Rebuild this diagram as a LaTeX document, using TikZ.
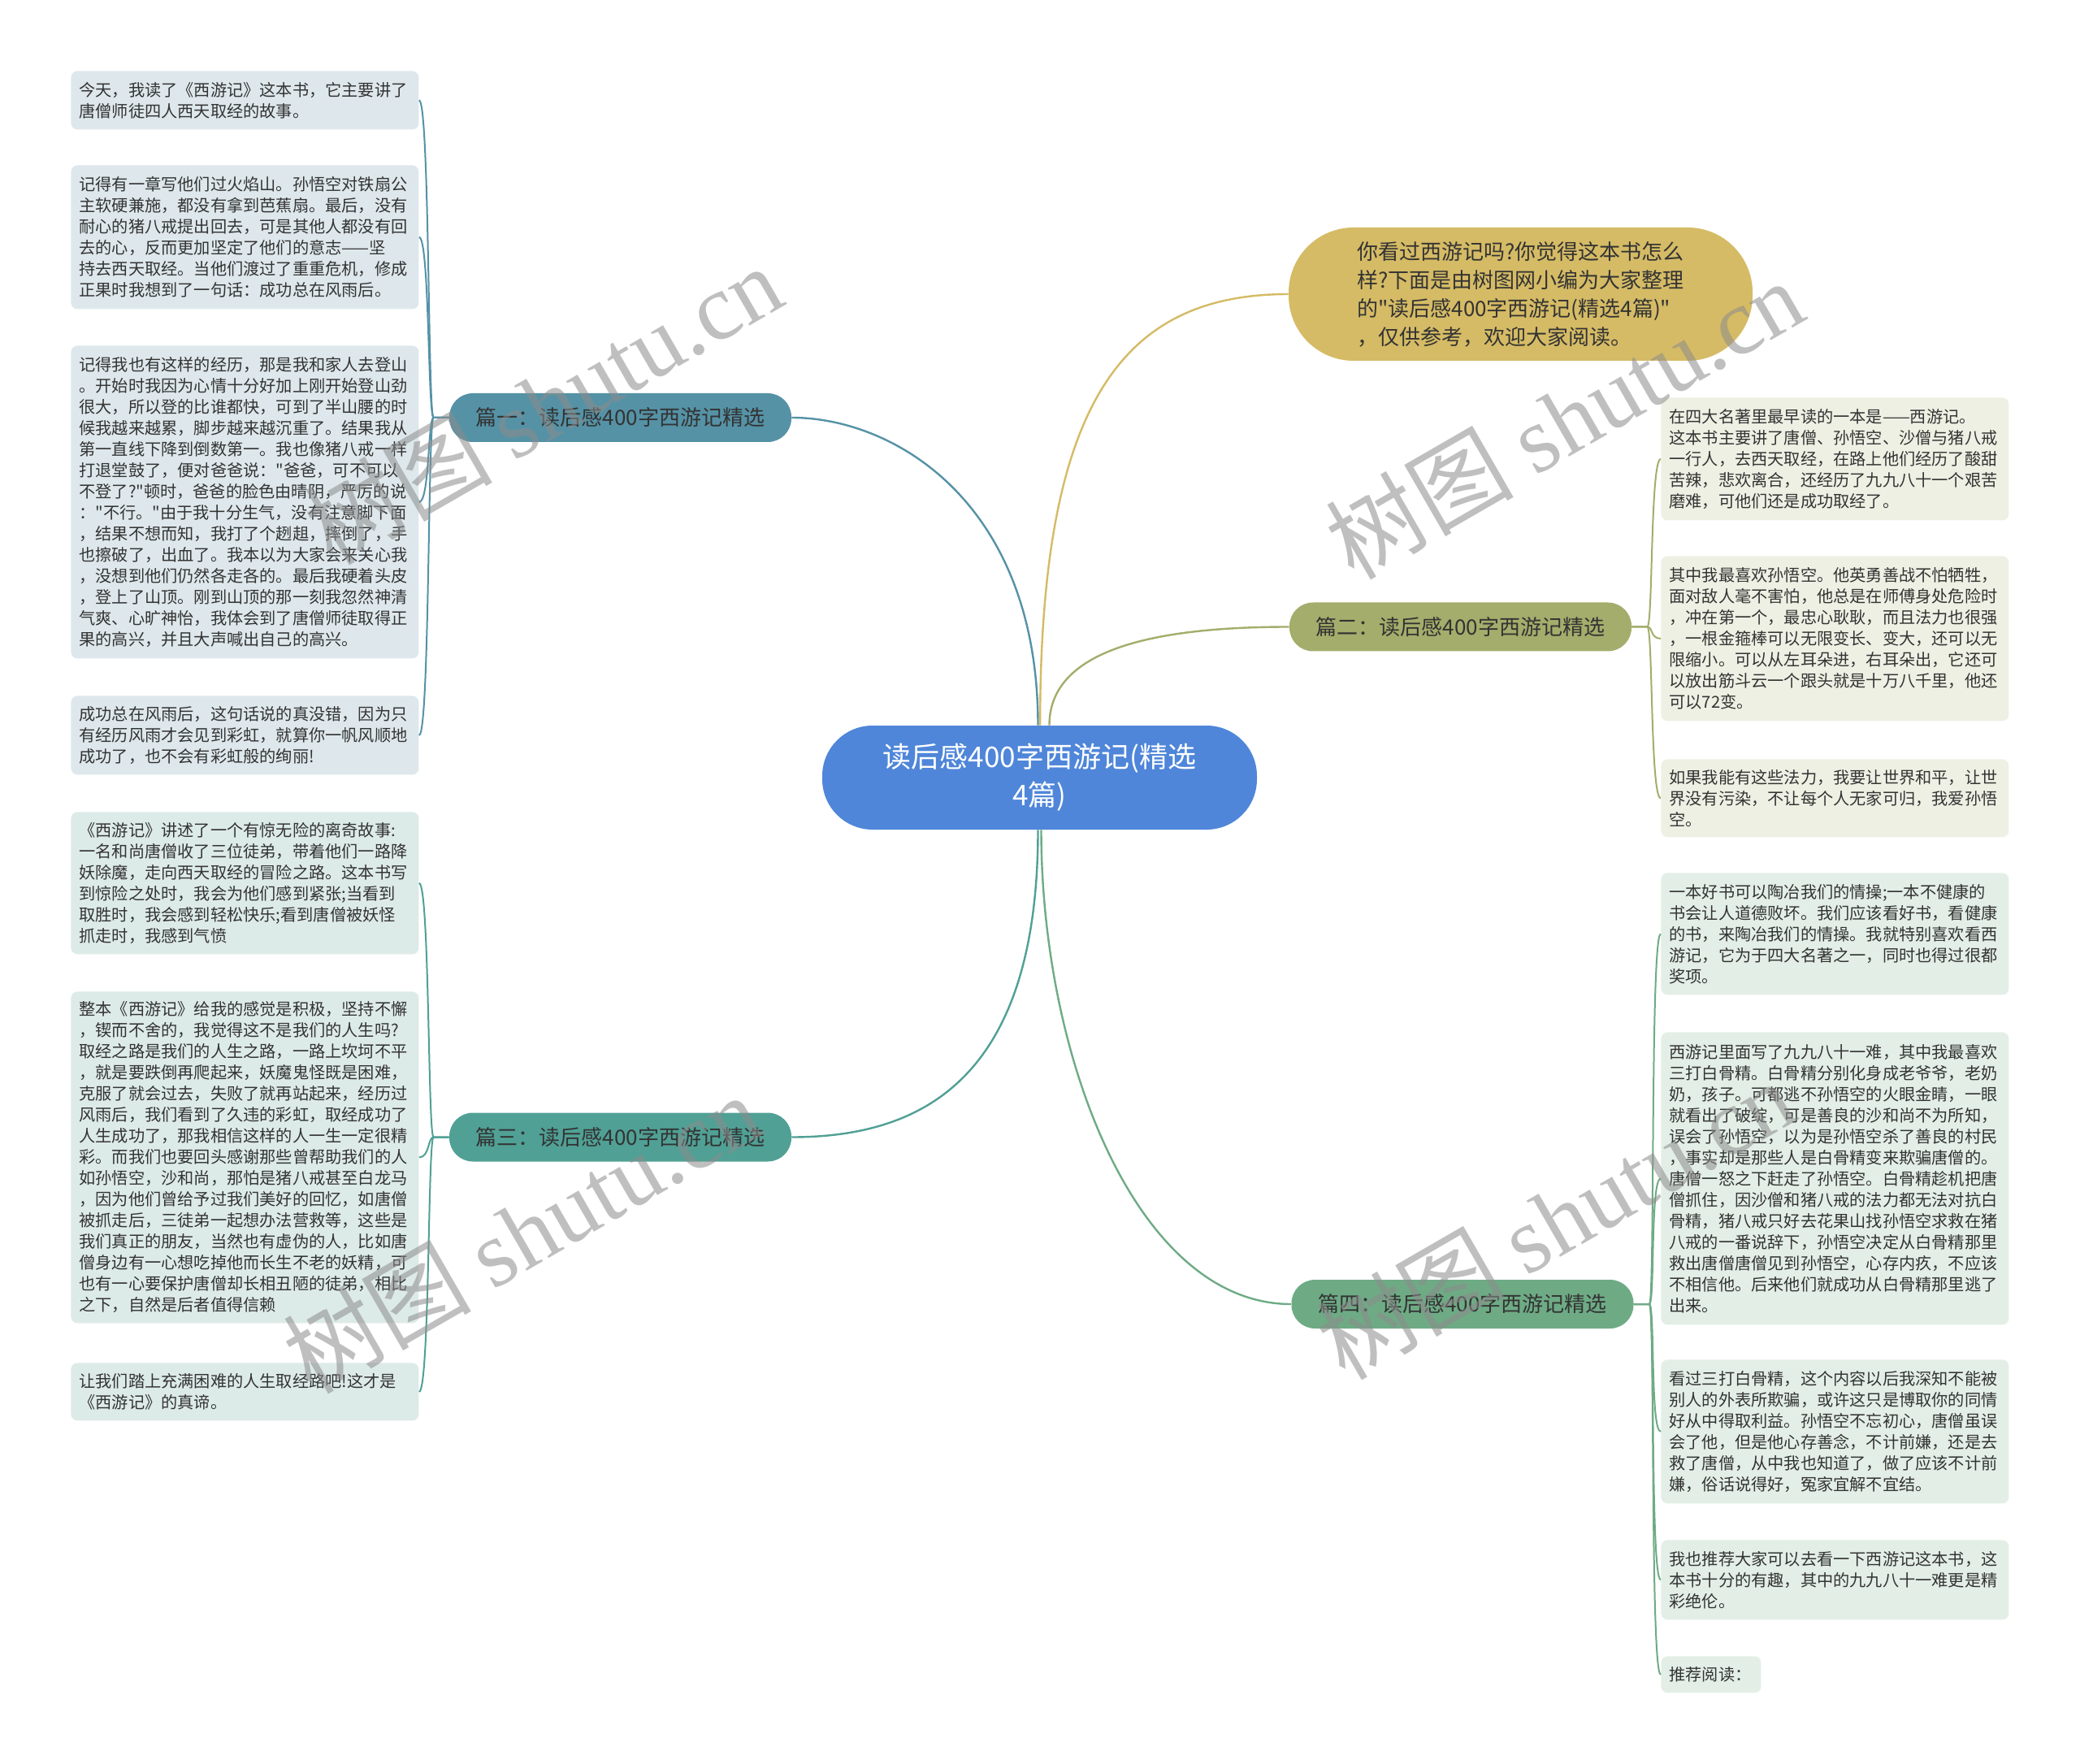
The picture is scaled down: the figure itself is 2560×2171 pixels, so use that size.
\documentclass[tikz,border=0pt]{standalone}
\usepackage{fontspec}
\newfontfamily\cjk{Noto Sans CJK SC}
\newfontfamily\wmlatin{Liberation Serif}
\usetikzlibrary{calc}
\definecolor{ctrblue}{HTML}{4F86D9}
\definecolor{introgold}{HTML}{D5BB65}
\definecolor{cA}{HTML}{5592A6}
\definecolor{cB}{HTML}{A4AD6B}
\definecolor{cC}{HTML}{50A095}
\definecolor{cD}{HTML}{6EAB85}
\definecolor{fA}{HTML}{DEE8EC}
\definecolor{fB}{HTML}{EFF0E4}
\definecolor{fC}{HTML}{DDEBE8}
\definecolor{fD}{HTML}{E3EFE6}
\definecolor{txt}{HTML}{333333}
\begin{document}
\begin{tikzpicture}[x=0.5pt,y=-0.5pt,
  leaf/.style={anchor=north west, rounded corners=4pt, inner xsep=5pt, inner ysep=0pt,
    text width=204pt, align=left, font=\cjk\fontsize{10.1pt}{13pt}\selectfont, text=txt},
  leafA/.style={leaf, fill=fA},
  leafB/.style={leaf, fill=fB},
  leafC/.style={leaf, fill=fC},
  leafD/.style={leaf, fill=fD},
  branch/.style={rounded corners=14.5pt, minimum width=210.5pt, minimum height=30pt,
    inner sep=0pt, font=\cjk\fontsize{13pt}{16pt}\selectfont, text=txt},
  mainline/.style={line width=1.2pt},
  leafline/.style={line width=1pt},
  wm/.style={rotate=30, text=black!45, text opacity=0.55, inner sep=0pt,
    font=\cjk\fontsize{58pt}{58pt}\selectfont}
]
\fill[white] (0,0) rectangle (2560,2171);
\useasboundingbox (0,0) rectangle (2560,2171);

% central and first-level nodes
\node[fill=ctrblue, rounded corners=31pt, minimum width=267.5pt, minimum height=64pt,
  inner sep=0pt, align=center, text=white, font=\cjk\fontsize{17.5pt}{23.5pt}\selectfont]
  (ctr) at (1279.5,957) {读后感400字西游记(精选\\4篇)};
\node[fill=introgold, rounded corners=40pt, minimum width=285.5pt, minimum height=82pt,
  inner sep=0pt, align=left, text=txt, font=\cjk\fontsize{13pt}{17.5pt}\selectfont]
  (intro) at (1871.5,362) {你看过西游记吗?你觉得这本书怎么\\样?下面是由树图网小编为大家整理\\的"读后感400字西游记(精选4篇)"\\，仅供参考，欢迎大家阅读。};
\node[branch, fill=cA] (b1) at (763.5,514) {篇一：读后感400字西游记精选};
\node[branch, fill=cC] (b3) at (763.5,1399.5) {篇三：读后感400字西游记精选};
\node[branch, fill=cB] (b2) at (1797.5,771.5) {篇二：读后感400字西游记精选};
\node[branch, fill=cD] (b4) at (1800,1605) {篇四：读后感400字西游记精选};

% left leaves
\node[leafA, minimum height=36pt] (l1) at (87,87) {今天，我读了《西游记》这本书，它主要讲了\\唐僧师徒四人西天取经的故事。};
\node[leafA, minimum height=88.5pt] (l2) at (87,203) {记得有一章写他们过火焰山。孙悟空对铁扇公\\主软硬兼施，都没有拿到芭蕉扇。最后，没有\\耐心的猪八戒提出回去，可是其他人都没有回\\去的心，反而更加坚定了他们的意志——坚\\持去西天取经。当他们渡过了重重危机，修成\\正果时我想到了一句话：成功总在风雨后。};
\node[leafA, minimum height=192.5pt] (l3) at (87,425) {记得我也有这样的经历，那是我和家人去登山\\。开始时我因为心情十分好加上刚开始登山劲\\很大，所以登的比谁都快，可到了半山腰的时\\候我越来越累，脚步越来越沉重了。结果我从\\第一直线下降到倒数第一。我也像猪八戒一样\\打退堂鼓了，便对爸爸说："爸爸，可不可以\\不登了?"顿时，爸爸的脸色由晴阴，严厉的说\\："不行。"由于我十分生气，没有注意脚下面\\，结果不想而知，我打了个趔趄，摔倒了，手\\也擦破了，出血了。我本以为大家会来关心我\\，没想到他们仍然各走各的。最后我硬着头皮\\，登上了山顶。刚到山顶的那一刻我忽然神清\\气爽、心旷神怡，我体会到了唐僧师徒取得正\\果的高兴，并且大声喊出自己的高兴。};
\node[leafA, minimum height=48.5pt] (l4) at (87,856) {成功总在风雨后，这句话说的真没错，因为只\\有经历风雨才会见到彩虹，就算你一帆风顺地\\成功了，也不会有彩虹般的绚丽!};
\node[leafC, minimum height=87.5pt] (l5) at (87,999) {《西游记》讲述了一个有惊无险的离奇故事:\\一名和尚唐僧收了三位徒弟，带着他们一路降\\妖除魔，走向西天取经的冒险之路。这本书写\\到惊险之处时，我会为他们感到紧张;当看到\\取胜时，我会感到轻松快乐;看到唐僧被妖怪\\抓走时，我感到气愤};
\node[leafC, minimum height=204pt] (l6) at (87,1220) {整本《西游记》给我的感觉是积极，坚持不懈\\，锲而不舍的，我觉得这不是我们的人生吗?\\取经之路是我们的人生之路，一路上坎坷不平\\，就是要跌倒再爬起来，妖魔鬼怪既是困难，\\克服了就会过去，失败了就再站起来，经历过\\风雨后，我们看到了久违的彩虹，取经成功了\\人生成功了，那我相信这样的人一生一定很精\\彩。而我们也要回头感谢那些曾帮助我们的人\\如孙悟空，沙和尚，那怕是猪八戒甚至白龙马\\，因为他们曾给予过我们美好的回忆，如唐僧\\被抓走后，三徒弟一起想办法营救等，这些是\\我们真正的朋友，当然也有虚伪的人，比如唐\\僧身边有一心想吃掉他而长生不老的妖精，可\\也有一心要保护唐僧却长相丑陋的徒弟，相比\\之下，自然是后者值得信赖};
\node[leafC, minimum height=35.5pt] (l7) at (87,1677) {让我们踏上充满困难的人生取经路吧!这才是\\《西游记》的真谛。};

% right leaves
\node[leafB, minimum height=75.5pt] (r1) at (2044,489) {在四大名著里最早读的一本是——西游记。\\这本书主要讲了唐僧、孙悟空、沙僧与猪八戒\\一行人，去西天取经，在路上他们经历了酸甜\\苦辣，悲欢离合，还经历了九九八十一个艰苦\\磨难，可他们还是成功取经了。};
\node[leafB, minimum height=101.5pt] (r2) at (2044,684) {其中我最喜欢孙悟空。他英勇善战不怕牺牲，\\面对敌人毫不害怕，他总是在师傅身处危险时\\，冲在第一个，最忠心耿耿，而且法力也很强\\，一根金箍棒可以无限变长、变大，还可以无\\限缩小。可以从左耳朵进，右耳朵出，它还可\\以放出筋斗云一个跟头就是十万八千里，他还\\可以72变。};
\node[leafB, minimum height=48pt] (r3) at (2044,934) {如果我能有这些法力，我要让世界和平，让世\\界没有污染，不让每个人无家可归，我爱孙悟\\空。};
\node[leafD, minimum height=75pt] (r4) at (2044,1074) {一本好书可以陶冶我们的情操;一本不健康的\\书会让人道德败坏。我们应该看好书，看健康\\的书，来陶冶我们的情操。我就特别喜欢看西\\游记，它为于四大名著之一，同时也得过很都\\奖项。};
\node[leafD, minimum height=180pt] (r5) at (2044,1270) {西游记里面写了九九八十一难，其中我最喜欢\\三打白骨精。白骨精分别化身成老爷爷，老奶\\奶，孩子。可都逃不孙悟空的火眼金睛，一眼\\就看出了破绽，可是善良的沙和尚不为所知，\\误会了孙悟空，以为是孙悟空杀了善良的村民\\，事实却是那些人是白骨精变来欺骗唐僧的。\\唐僧一怒之下赶走了孙悟空。白骨精趁机把唐\\僧抓住，因沙僧和猪八戒的法力都无法对抗白\\骨精，猪八戒只好去花果山找孙悟空求救在猪\\八戒的一番说辞下，孙悟空决定从白骨精那里\\救出唐僧唐僧见到孙悟空，心存内疚，不应该\\不相信他。后来他们就成功从白骨精那里逃了\\出来。};
\node[leafD, minimum height=88.5pt] (r6) at (2044,1673) {看过三打白骨精，这个内容以后我深知不能被\\别人的外表所欺骗，或许这只是博取你的同情\\好从中得取利益。孙悟空不忘初心，唐僧虽误\\会了他，但是他心存善念，不计前嫌，还是去\\救了唐僧，从中我也知道了，做了应该不计前\\嫌，俗话说得好，冤家宜解不宜结。};
\node[leafD, minimum height=49pt] (r7) at (2044,1895) {我也推荐大家可以去看一下西游记这本书，这\\本书十分的有趣，其中的九九八十一难更是精\\彩绝伦。};
\node[leafD, minimum height=22.5pt, text width=51.5pt] (r8) at (2044,2038) {推荐阅读：};

% main connectors
\draw[mainline, draw=cA] ([xshift=-1pt]ctr.north) .. controls +(0,-273) and +(127,0) .. (b1.east);
\draw[mainline, draw=introgold] ([xshift=0.3pt]ctr.north) .. controls +(0,-393) and +(-207,0) .. (intro.west);
\draw[mainline, draw=cB] ([xshift=6pt]ctr.north) .. controls +(0,-93) and +(-167,0) .. (b2.west);
\draw[mainline, draw=cC] ([xshift=-1pt]ctr.south) .. controls +(0,310) and +(157,0) .. (b3.east);
\draw[mainline, draw=cD] ([xshift=1pt]ctr.south) .. controls +(0,280) and +(-190,0) .. (b4.west);

% leaf connectors
\foreach \l in {l1,l2,l3,l4}
  \draw[leafline, draw=cA] (b1.west) -- ++(-19,0) .. controls +(-7,0) and +(13,0) .. (\l.east);
\foreach \l in {l5,l6,l7}
  \draw[leafline, draw=cC] (b3.west) -- ++(-19,0) .. controls +(-7,0) and +(13,0) .. (\l.east);
\foreach \l in {r1,r2,r3}
  \draw[leafline, draw=cB] (b2.east) -- ++(19,0) .. controls +(7,0) and +(-13,0) .. (\l.west);
\foreach \l in {r4,r5,r6,r7,r8}
  \draw[leafline, draw=cD] (b4.east) -- ++(19,0) .. controls +(7,0) and +(-13,0) .. (\l.west);

% watermarks
\node[wm] (wm1) at (668,497) {树图 \wmlatin shutu.cn};
\node[wm] (wm2) at (1925,515) {树图 \wmlatin shutu.cn};
\node[wm] (wm3) at (642,1517) {树图 \wmlatin shutu.cn};
\node[wm] (wm4) at (1914,1500) {树图 \wmlatin shutu.cn};
\end{tikzpicture}
\end{document}
